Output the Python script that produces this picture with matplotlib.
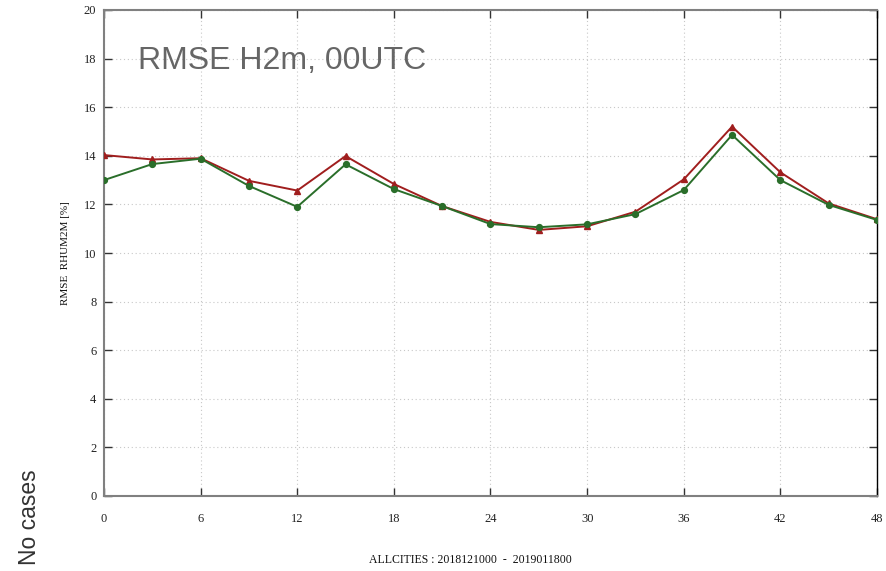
import numpy as np
import matplotlib
matplotlib.use("Agg")
import matplotlib.pyplot as plt

# forecast step (h)
STEPS = [0, 3, 6, 9, 12, 15, 18, 21, 24, 27, 30, 33, 36, 39, 42, 45, 48]

# two runs, RMSE of 2m relative humidity (%)
RMSE_RED = [14.03, 13.85, 13.9, 12.97, 12.57, 13.99, 12.84, 11.93, 11.28,
            10.95, 11.1, 11.7, 13.03, 15.2, 13.32, 12.04, 11.39]
RMSE_GREEN = [13.0, 13.66, 13.88, 12.76, 11.9, 13.65, 12.63, 11.93, 11.19,
              11.06, 11.18, 11.6, 12.59, 14.86, 13.0, 11.98, 11.36]

X_TICKS = list(range(0, 49, 6))
Y_TICKS = list(range(0, 21, 2))

SERIF = ["Liberation Serif", "DejaVu Serif"]
SANS = ["Liberation Sans", "DejaVu Sans"]

fig = plt.figure(figsize=(8.86, 5.71), dpi=100)
ax = fig.add_axes([104 / 886, 75 / 571, 773 / 886, 486 / 571])

ax.plot(STEPS, RMSE_RED, color="#a01e1e", lw=1.4, marker="^", ms=4.2, zorder=3)
ax.plot(STEPS, RMSE_GREEN, color="#2a6e2a", lw=1.4, marker="o", ms=4.2, zorder=4)

ax.set_xlim(0, 48)
ax.set_ylim(0, 20)
ax.set_xticks(X_TICKS)
ax.set_yticks(Y_TICKS)
ax.grid(True, color="#c8c8c8", ls=(0, (1, 2.5)), lw=0.8)

for side in ("left", "bottom", "top"):
    ax.spines[side].set_color("#808080")
    ax.spines[side].set_linewidth(1.5)
ax.spines["right"].set_color("#000000")
ax.spines["right"].set_linewidth(1.0)

ax.tick_params(direction="in", length=6, width=1, color="#333333",
               top=True, right=True, labelsize=9)
ax.tick_params(axis="x", pad=12)
ax.tick_params(axis="y", pad=5.5)
for lab in ax.get_xticklabels() + ax.get_yticklabels():
    lab.set_family(SERIF)
    lab.set_color("#222222")

ax.text(0.044, 0.895, "RMSE H2m, 00UTC", transform=ax.transAxes,
        ha="left", va="center", fontsize=23, color="#666666", family=SANS)

fig.text(65 / 886, 1 - 253 / 571, "RMSE  RHUM2M [%]", rotation=90,
         ha="center", va="center", fontsize=8, family=SERIF, color="#111111")
fig.text(470 / 886, 1 - 560 / 571, "ALLCITIES : 2018121000  -  2019011800",
         ha="center", va="center", fontsize=8.5, family=SERIF, color="#111111")
fig.text(30 / 886, 1 - 565 / 571, "No cases", rotation=90,
         ha="center", va="bottom", fontsize=16.5, family=SANS, color="#333333")

fig.savefig("out.png", dpi=100)
